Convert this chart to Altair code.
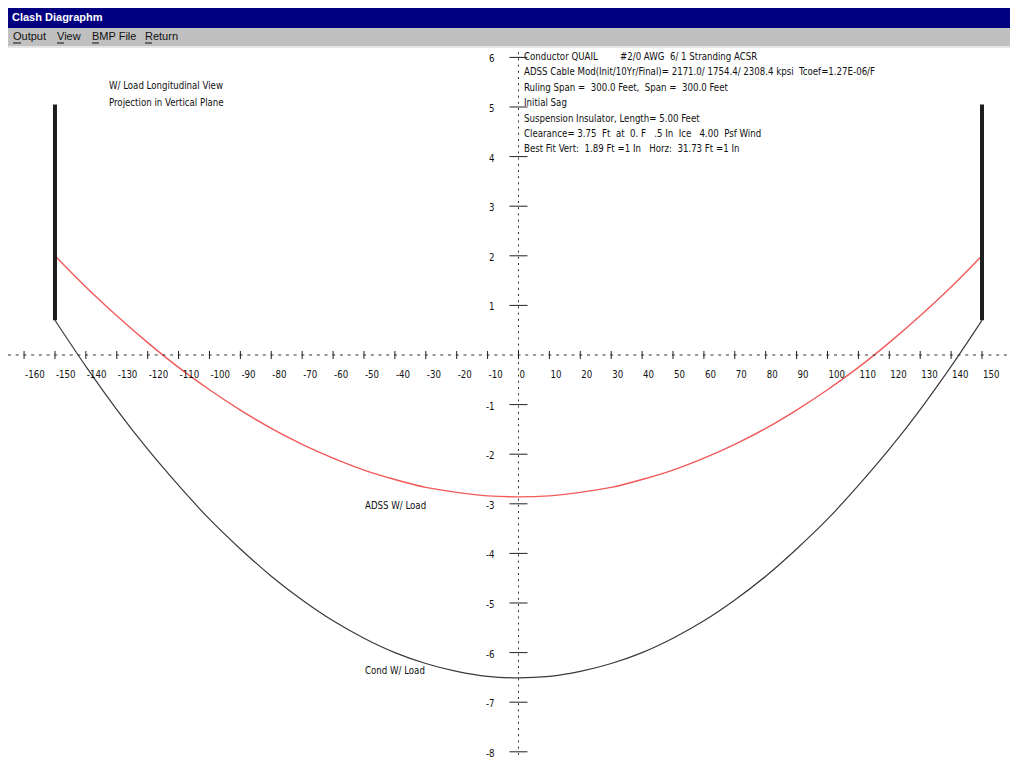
import altair as alt
import pandas as pd

# ---------------- data ----------------
x_tick_values = list(range(-160, 151, 10))
y_tick_values = [6, 5, 4, 3, 2, 1, -1, -2, -3, -4, -5, -6, -7, -8]

span_x = [-150, -140, -130, -120, -110, -100, -90, -80, -70, -60, -50, -40, -30, -20, -10,
          0, 10, 20, 30, 40, 50, 60, 70, 80, 90, 100, 110, 120, 130, 140, 150]
adss_y = [2.00, 1.37, 0.79, 0.25, -0.25, -0.70, -1.11, -1.48, -1.80, -2.08, -2.32, -2.51, -2.67, -2.77, -2.84,
          -2.86, -2.84, -2.77, -2.67, -2.51, -2.32, -2.08, -1.80, -1.48, -1.11, -0.70, -0.25, 0.25, 0.79, 1.37, 2.00]
cond_y = [0.70, -0.23, -1.10, -1.90, -2.63, -3.31, -3.91, -4.46, -4.94, -5.36, -5.71, -6.00, -6.22, -6.38, -6.48,
          -6.51, -6.48, -6.38, -6.22, -6.00, -5.71, -5.36, -4.94, -4.46, -3.91, -3.31, -2.63, -1.90, -1.10, -0.23, 0.70]

pole_x = [-150, 150]
pole_top = [5.05, 5.05]
pole_bottom = [0.70, 0.70]

NB = "\u00a0"
info_lines = [
    "Conductor QUAIL",
    "ADSS Cable Mod(Init/10Yr/Final)= 2171.0/ 1754.4/ 2308.4 kpsi" + NB + "  Tcoef=1.27E-06/F",
    "Ruling Span =" + NB + " 300.0 Feet," + NB + " Span =" + NB + " 300.0 Feet",
    "Initial Sag",
    "Suspension Insulator, Length= 5.00 Feet",
    "Clearance= 3.75" + NB + " Ft" + NB + " at" + NB + " 0. F" + NB + NB + " .5 In" + NB + " Ice" + NB + NB + " 4.00" + NB + " Psf Wind",
    "Best Fit Vert:" + NB + " 1.89 Ft =1 In" + NB + NB + " Horz:" + NB + " 31.73 Ft =1 In",
]
conductor_desc = "#2/0 AWG" + NB + " 6/ 1 Stranding ACSR"
view_lines = ["W/ Load Longitudinal View", "Projection in Vertical Plane"]
menu_items = ["Output", "View", "BMP File", "Return"]
window_title = "Clash Diagraphm"

# ---------------- layout ----------------
W, H = 1002, 750
FONT = "Liberation Sans Narrow, DejaVu Sans Condensed, Liberation Sans, sans-serif"
UI_FONT = "Liberation Sans, DejaVu Sans, sans-serif"
FS = 9.6

xs = alt.Scale(domain=[-165.2, 159.06], nice=False, zero=False)
ys = alt.Scale(domain=[-8.125, 6.996], nice=False, zero=False)

curves = pd.DataFrame({
    "x": span_x * 2,
    "y": adss_y + cond_y,
    "cable": ["ADSS"] * len(span_x) + ["Cond"] * len(span_x),
})
poles = pd.DataFrame({"x": pole_x, "top": pole_top, "bottom": pole_bottom})
xt = pd.DataFrame({"t": x_tick_values})
yt = pd.DataFrame({"t": y_tick_values})
one = pd.DataFrame({"a": [0]})


def X(f):
    return alt.X(f, scale=xs, axis=None)


def Y(f):
    return alt.Y(f, scale=ys, axis=None)


adss = alt.Chart(curves).transform_filter(alt.datum.cable == "ADSS").mark_line(
    interpolate="monotone", color="#f25a5a", strokeWidth=1.4
).encode(x=X("x:Q"), y=Y("y:Q"))
cond = alt.Chart(curves).transform_filter(alt.datum.cable == "Cond").mark_line(
    interpolate="monotone", color="#3a3a3a", strokeWidth=1.2
).encode(x=X("x:Q"), y=Y("y:Q"))

# axis lines (dashed / dotted, crossing at the origin)
x_axis_line = alt.Chart(one).transform_calculate(zero="0").mark_rule(
    color="#333", strokeWidth=1, strokeDash=[3, 4.72]
).encode(x=alt.value(0), x2=alt.value(W), y=Y("zero:Q"))
y_axis_line = alt.Chart(one).transform_calculate(zero="0").mark_rule(
    color="#333", strokeWidth=1, strokeDash=[2, 4.2]
).encode(x=X("zero:Q"), y=alt.value(38), y2=alt.value(H))

x_ticks = alt.Chart(xt).transform_calculate(zero="0").mark_rule(
    color="#222", strokeWidth=1, yOffset=-4, y2Offset=4
).encode(x=X("t:Q"), y=Y("zero:Q"), y2="zero:Q")
y_ticks = alt.Chart(yt).transform_calculate(zero="0").mark_rule(
    color="#222", strokeWidth=1, xOffset=-9, x2Offset=9
).encode(y=Y("t:Q"), x=X("zero:Q"), x2="zero:Q")
x_labels = alt.Chart(xt).transform_calculate(zero="0", lbl="'' + datum.t").mark_text(
    align="left", baseline="middle", font=FONT, fontSize=FS, color="#111", dx=1, dy=20
).encode(x=X("t:Q"), y=Y("zero:Q"), text="lbl:N")
y_labels = alt.Chart(yt).transform_calculate(zero="0", lbl="'' + datum.t").mark_text(
    align="right", baseline="middle", font=FONT, fontSize=FS, color="#111", dx=-24, dy=2
).encode(y=Y("t:Q"), x=X("zero:Q"), text="lbl:N")

pole_marks = alt.Chart(poles).mark_rule(color="#1e1e1e", strokeWidth=4).encode(
    x=X("x:Q"), y=Y("top:Q"), y2="bottom:Q",
)

info = alt.Chart(one).mark_text(
    align="left", baseline="top", font=FONT, fontSize=FS, color="#111", lineHeight=15.4
).encode(x=alt.value(516), y=alt.value(44), text=alt.value(info_lines))
info2 = alt.Chart(one).mark_text(
    align="left", baseline="top", font=FONT, fontSize=FS, color="#111"
).encode(x=alt.value(612), y=alt.value(44), text=alt.value(conductor_desc))
view_txt = alt.Chart(one).mark_text(
    align="left", baseline="top", font=FONT, fontSize=FS, color="#111", lineHeight=16.5
).encode(x=alt.value(101), y=alt.value(73), text=alt.value(view_lines))
adss_lbl = alt.Chart(one).mark_text(
    align="left", baseline="middle", font=FONT, fontSize=FS, color="#111"
).encode(x=alt.value(357), y=alt.value(498), text=alt.value("ADSS W/ Load"))
cond_lbl = alt.Chart(one).mark_text(
    align="left", baseline="middle", font=FONT, fontSize=FS, color="#111"
).encode(x=alt.value(357), y=alt.value(663), text=alt.value("Cond W/ Load"))

title_bar = alt.Chart(one).mark_rect(color="#000080").encode(
    x=alt.value(0), x2=alt.value(W), y=alt.value(0), y2=alt.value(20))
title_txt = alt.Chart(one).mark_text(
    align="left", baseline="middle", font=UI_FONT, fontSize=11, fontWeight="bold", color="white"
).encode(x=alt.value(4), y=alt.value(10), text=alt.value(window_title))
menu_bar = alt.Chart(one).mark_rect(color="#c0c0c0").encode(
    x=alt.value(0), x2=alt.value(W), y=alt.value(20), y2=alt.value(38))
menu_edge = alt.Chart(one).mark_rect(color="#e6e6e6").encode(
    x=alt.value(0), x2=alt.value(W), y=alt.value(38), y2=alt.value(40))

menu_layers = []
menu_x = [5, 49, 84, 137]
under_w = [8, 7, 7, 7]
for item, mx, uw in zip(menu_items, menu_x, under_w):
    menu_layers.append(
        alt.Chart(one).mark_text(
            align="left", baseline="middle", font=UI_FONT, fontSize=11, color="#111"
        ).encode(x=alt.value(mx), y=alt.value(29), text=alt.value(item))
    )
    menu_layers.append(
        alt.Chart(one).mark_rule(color="#111", strokeWidth=1).encode(
            x=alt.value(mx), x2=alt.value(mx + uw), y=alt.value(35))
    )

chart = alt.layer(
    adss, cond, x_axis_line, y_axis_line, x_ticks, y_ticks, x_labels, y_labels,
    pole_marks,
    info, info2, view_txt, adss_lbl, cond_lbl,
    title_bar, menu_bar, menu_edge, title_txt, *menu_layers,
).properties(
    width=W, height=H,
    autosize=alt.AutoSizeParams(type="none"),
    padding=0,
    background="white",
).configure_view(strokeWidth=0)

chart.save("out.html", embed_options={"renderer": "svg", "actions": False})
